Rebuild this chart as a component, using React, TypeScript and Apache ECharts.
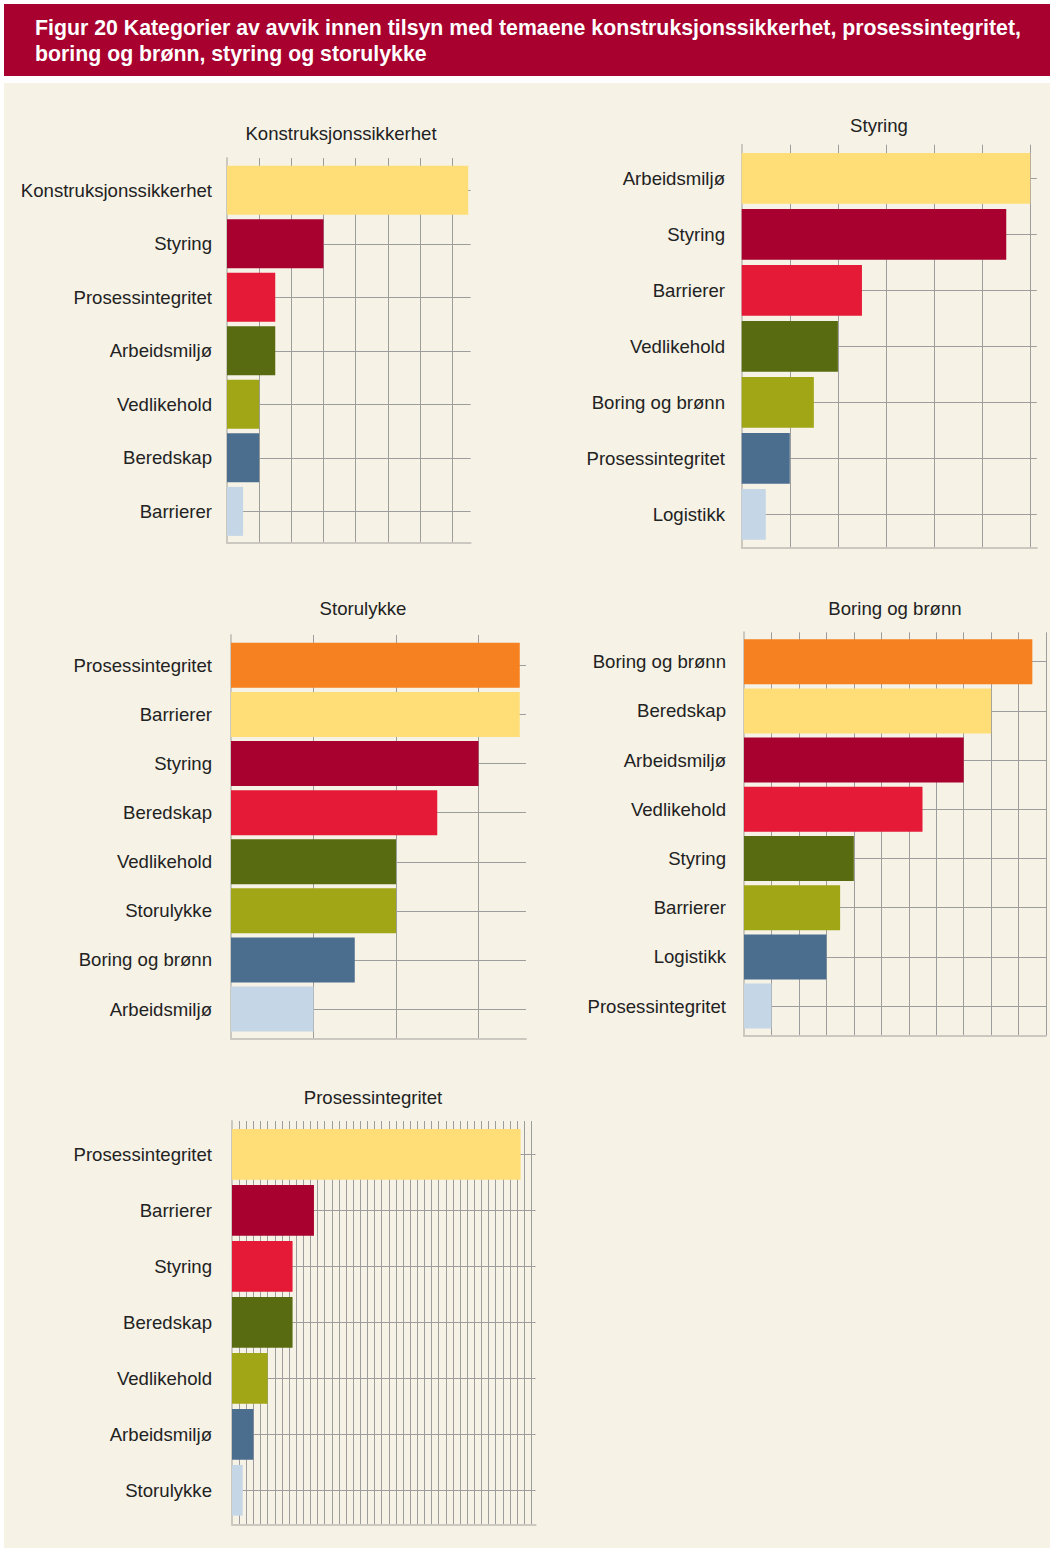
import React, { useEffect, useRef } from "react";
import * as echarts from "echarts";

// ---------- data ----------
const p1Title = "Konstruksjonssikkerhet";
const p1Labels = ["Konstruksjonssikkerhet", "Styring", "Prosessintegritet", "Arbeidsmiljø", "Vedlikehold", "Beredskap", "Barrierer"];
const p1Values = [15, 6, 3, 3, 2, 2, 1];

const p2Title = "Styring";
const p2Labels = ["Arbeidsmiljø", "Styring", "Barrierer", "Vedlikehold", "Boring og brønn", "Prosessintegritet", "Logistikk"];
const p2Values = [12, 11, 5, 4, 3, 2, 1];

const p3Title = "Storulykke";
const p3Labels = ["Prosessintegritet", "Barrierer", "Styring", "Beredskap", "Vedlikehold", "Storulykke", "Boring og brønn", "Arbeidsmiljø"];
const p3Values = [7, 7, 6, 5, 4, 4, 3, 2];

const p4Title = "Boring og brønn";
const p4Labels = ["Boring og brønn", "Beredskap", "Arbeidsmiljø", "Vedlikehold", "Styring", "Barrierer", "Logistikk", "Prosessintegritet"];
const p4Values = [21, 18, 16, 13, 8, 7, 6, 2];

const p5Title = "Prosessintegritet";
const p5Labels = ["Prosessintegritet", "Barrierer", "Styring", "Beredskap", "Vedlikehold", "Arbeidsmiljø", "Storulykke"];
const p5Values = [40.5, 11.5, 8.5, 8.5, 5, 3, 1.5];

const figTitle1 = "Figur 20 Kategorier av avvik innen tilsyn med temaene konstruksjonssikkerhet, prosessintegritet,";
const figTitle2 = "boring og brønn, styring og storulykke";

// ---------- styles ----------
const ORANGE = "#F68121";
const YELLOW = "#FFDE78";
const DARKRED = "#A8002F";
const RED = "#E51A36";
const DARKGREEN = "#596B10";
const OLIVE = "#A0A616";
const BLUE = "#4B6E8F";
const LIGHTBLUE = "#C5D6E6";
const colors7 = [YELLOW, DARKRED, RED, DARKGREEN, OLIVE, BLUE, LIGHTBLUE];
const colors8 = [ORANGE, YELLOW, DARKRED, RED, DARKGREEN, OLIVE, BLUE, LIGHTBLUE];

const FONT = "'Liberation Sans', Arial, Helvetica, sans-serif";
const LABEL_SIZE = 18.6;
const GRID_COLOR = "#9d9d9d";
const AXIS_COLOR = "#cbc8c0";

const panels = [
  { title: p1Title, labels: p1Labels, values: p1Values, colors: colors7,
    titleX: 341, titleY: 133, x0: 227, unit: 16.08, interval: 2, lastTick: 14, max: 15.15,
    vTop: 158, vBottom: 543, bandTop: 163.6, band: 53.5, barH: 49, labelRight: 212 },
  { title: p2Title, labels: p2Labels, values: p2Values, colors: colors7,
    titleX: 879, titleY: 125, x0: 741.7, unit: 24.05, interval: 2, lastTick: 12, max: 12.27,
    vTop: 144.7, vBottom: 547.3, bandTop: 150.3, band: 56, barH: 50.7, labelRight: 725 },
  { title: p3Title, labels: p3Labels, values: p3Values, colors: colors8,
    titleX: 363, titleY: 608, x0: 231, unit: 41.25, interval: 2, lastTick: 6, max: 7.15,
    vTop: 635, vBottom: 1038.3, bandTop: 640.8, band: 49.1, barH: 45, labelRight: 212 },
  { title: p4Title, labels: p4Labels, values: p4Values, colors: colors8,
    titleX: 895, titleY: 608, x0: 744, unit: 13.73, interval: 2, lastTick: 22, max: 22,
    vTop: 632.3, vBottom: 1035.7, bandTop: 637.1, band: 49.2, barH: 45, labelRight: 726 },
  { title: p5Title, labels: p5Labels, values: p5Values, colors: colors7,
    titleX: 373, titleY: 1097, x0: 232, unit: 7.126, interval: 1, lastTick: 42, max: 42.6,
    vTop: 1121, vBottom: 1524.3, bandTop: 1126.3, band: 56, barH: 50.7, labelRight: 212 },
];

function buildOption() {
  const grid: any[] = [];
  const xAxis: any[] = [];
  const yAxis: any[] = [];
  const series: any[] = [];
  const graphic: any[] = [
    { type: "rect", z: -10, silent: true, shape: { x: 4, y: 4, width: 1046, height: 72 }, style: { fill: "#A8002F" } },
    { type: "rect", z: -10, silent: true, shape: { x: 4, y: 83, width: 1046, height: 1465 }, style: { fill: "#F6F2E6" } },
    { type: "text", z: 100, x: 35, y: 28, style: { text: figTitle1, fill: "#ffffff", font: `bold 21.3px ${FONT}`, textVerticalAlign: "middle", verticalAlign: "middle" } },
    { type: "text", z: 100, x: 35, y: 54, style: { text: figTitle2, fill: "#ffffff", font: `bold 21.3px ${FONT}`, textVerticalAlign: "middle", verticalAlign: "middle" } },
  ];

  panels.forEach((p, i) => {
    const n = p.labels.length;
    const barsBottom = p.bandTop + n * p.band;
    grid.push({ left: p.x0, top: p.bandTop, width: p.max * p.unit, height: n * p.band, containLabel: false });
    grid.push({ left: p.x0, top: p.vTop, width: p.lastTick * p.unit, height: p.vBottom - p.vTop, containLabel: false });

    xAxis.push({
      gridIndex: 2 * i, type: "value", min: 0, max: p.max, position: "bottom",
      offset: p.vBottom - barsBottom,
      axisLine: { show: true, lineStyle: { color: AXIS_COLOR, width: 2 } },
      axisTick: { show: false }, axisLabel: { show: false }, splitLine: { show: false },
    });
    xAxis.push({
      gridIndex: 2 * i + 1, type: "value", min: 0, max: p.lastTick, interval: p.interval,
      axisLine: { show: false }, axisTick: { show: false }, axisLabel: { show: false },
      splitLine: { show: true, lineStyle: { color: GRID_COLOR, width: 1 } },
    });

    yAxis.push({
      gridIndex: 2 * i, type: "category", inverse: true, data: p.labels, position: "left",
      axisLine: { show: false }, axisTick: { show: false }, splitLine: { show: false },
      axisLabel: { show: true, margin: p.x0 - p.labelRight, fontSize: LABEL_SIZE, color: "#222222", fontFamily: FONT },
    });
    const hiddenData = Array.from({ length: 2 * n + 1 }, (_, k) => String(k));
    yAxis.push({
      gridIndex: 2 * i, type: "category", boundaryGap: false, data: hiddenData, position: "right",
      axisLine: { show: false }, axisTick: { show: false }, axisLabel: { show: false },
      splitLine: { show: true, interval: (idx: number) => idx % 2 === 1, lineStyle: { color: GRID_COLOR, width: 1 } },
    });
    yAxis.push({
      gridIndex: 2 * i + 1, type: "value", min: 0, max: 1, position: "left",
      axisLine: { show: true, lineStyle: { color: AXIS_COLOR, width: 2 } },
      axisTick: { show: false }, axisLabel: { show: false }, splitLine: { show: false },
    });

    series.push({
      type: "bar", xAxisIndex: 2 * i, yAxisIndex: 3 * i, barWidth: p.barH, silent: true,
      data: p.values.map((v, k) => ({ value: v, itemStyle: { color: p.colors[k] } })),
    });

    graphic.push({
      type: "text", z: 100, x: p.titleX, y: p.titleY,
      style: { text: p.title, fill: "#222222", font: `${LABEL_SIZE}px ${FONT}`, textAlign: "center", align: "center", textVerticalAlign: "middle", verticalAlign: "middle" },
    });
  });

  return {
    animation: false,
    backgroundColor: "#ffffff",
    grid, xAxis, yAxis, series, graphic,
  };
}

export default function App() {
  const ref = useRef<HTMLDivElement>(null);
  useEffect(() => {
    if (!ref.current) return;
    const chart = echarts.init(ref.current, undefined, { renderer: "svg" });
    chart.setOption(buildOption() as any);
    return () => chart.dispose();
  }, []);
  return <div ref={ref} style={{ position: "absolute", left: 0, top: 0, width: 1050, height: 1548 }} />;
}
